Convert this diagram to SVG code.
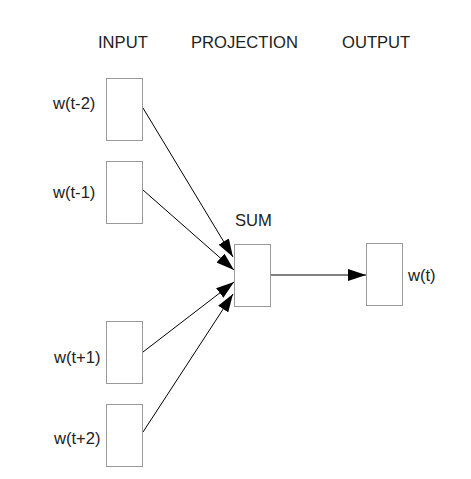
<svg xmlns="http://www.w3.org/2000/svg" width="471" height="479" viewBox="0 0 471 479">
<defs>
<marker id="ah" markerUnits="userSpaceOnUse" markerWidth="18" markerHeight="12" refX="18" refY="6" orient="auto">
<path d="M0,0 L18,6 L0,12 Z" fill="#000"/>
</marker>
<style>
text{font-family:"Liberation Sans",Arial,sans-serif;font-size:16.6px;fill:#222}
.box{fill:#fff;stroke:#999;stroke-width:1}
.edge{stroke:#000;stroke-width:1;fill:none;marker-end:url(#ah)}
</style>
</defs>
<rect width="471" height="479" fill="#fff"/>
<g id="headers">
<text x="98" y="48">INPUT</text>
<text x="191" y="48">PROJECTION</text>
<text x="342" y="48">OUTPUT</text>
</g>
<g id="connectors">
<line class="edge" x1="143" y1="108" x2="233" y2="257"/>
<line class="edge" x1="143" y1="190" x2="234" y2="270"/>
<line class="edge" x1="143" y1="352" x2="234" y2="282"/>
<line class="edge" x1="143" y1="432" x2="233" y2="294"/>
<line class="edge" x1="271" y1="275" x2="366" y2="275"/>
</g>
<g id="w-t-2"><rect class="box" x="106.5" y="78.5" width="36" height="62"/><text x="53" y="109">w(t-2)</text></g>
<g id="w-t-1"><rect class="box" x="106.5" y="161.5" width="36" height="62"/><text x="53" y="198">w(t-1)</text></g>
<g id="w-t+1"><rect class="box" x="106.5" y="321.5" width="36" height="62"/><text x="54" y="363">w(t+1)</text></g>
<g id="w-t+2"><rect class="box" x="106.5" y="404.5" width="36" height="62"/><text x="54" y="444">w(t+2)</text></g>
<g id="sum"><rect class="box" x="234.5" y="244.5" width="36" height="62"/><text x="235" y="226">SUM</text></g>
<g id="w-t"><rect class="box" x="366.5" y="243.5" width="36" height="62"/><text x="408" y="281">w(t)</text></g>
</svg>
